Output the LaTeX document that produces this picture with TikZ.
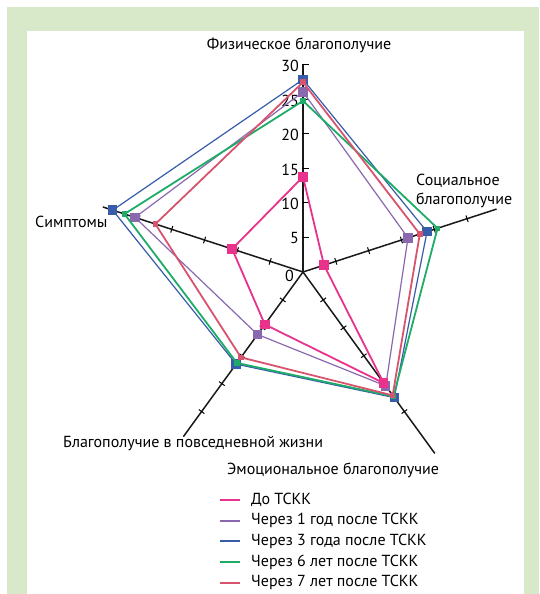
\documentclass[tikz,border=0pt]{standalone}
\usepackage{fontspec}
\setmainfont{PT Sans}
\usetikzlibrary{positioning}
\definecolor{frameGreen}{RGB}{216, 233, 201}
\definecolor{beforeColor}{RGB}{232, 50, 140}
\definecolor{oneYearColor}{RGB}{138, 104, 176}
\definecolor{threeYearColor}{RGB}{54, 92, 170}
\definecolor{sixYearColor}{RGB}{30, 172, 104}
\definecolor{sevenYearColor}{RGB}{216, 84, 110}

\begin{document}
\begin{tikzpicture}[x=1pt, y=1pt, font=\fontsize{16}{19}\selectfont,
    axis/.style={line width=1.5pt, black!90},
    marker/.style={rectangle, inner sep=0pt, minimum size=#1},
    legendline/.style={line width=1.8pt}]
        % Frame
        \fill[white] (0,0) rectangle (539,594);
        \useasboundingbox (0,0) rectangle (539,594);
        \fill[frameGreen] (7,0) rectangle (539,587);
        \fill[white] (27,0) rectangle (524,563);

        \coordinate (center) at (303,322);
        \begin{scope}[shift={(center)}, x=6.9pt, y=6.9pt]
            % Axes
            \foreach \ang/\len/\nm in {90/30/phys, 18/29.5/soc, -54/32.5/emo, -126/29.5/daily, 162/30.5/sympt}
                \draw[axis] (0,0) -- (\ang:\len) coordinate (\nm end);
            % Ticks
            \foreach \ang in {18, -54, -126, 162}
                \foreach \r in {5, 10, ..., 25}
                    \draw[line width=1pt, rotate=\ang] (\r,-0.5) -- (\r,0.5);
            \foreach \r in {5, 10, ..., 30} {
                \draw[line width=1pt] (0,\r) ++(-1pt,0) -- ++(7pt,0);
                \node[anchor=east, inner sep=0pt] (tick\r) at ([xshift=-4pt, yshift=-1pt]0,\r) {\r};
            }
            \node[anchor=east, inner sep=0pt] (tick0) at ([xshift=-9pt, yshift=-4pt]0,0) {0};

            % Series
            \foreach \sname/\col/\lw/\msz/\a/\b/\c/\d/\e in {
                    three/threeYearColor/1.2pt/9.5pt/27.9/18.9/22.5/16.5/29.0,
                    one/oneYearColor/1.2pt/9.5pt/26.1/16.0/20.4/11.2/25.6,
                    six/sixYearColor/1.8pt/5.5pt/24.8/20.5/22.3/16.3/27.2,
                    seven/sevenYearColor/1.8pt/5.5pt/27.5/17.8/22.1/15.3/22.5,
                    before/beforeColor/1.8pt/9.5pt/13.8/3.2/19.9/9.4/10.8} {
                \draw[\col, line width=\lw, line join=miter]
                    (90:\a) coordinate (\sname phys) -- (18:\b) coordinate (\sname soc)
                    -- (-54:\c) coordinate (\sname emo) -- (-126:\d) coordinate (\sname daily)
                    -- (162:\e) coordinate (\sname sympt) -- cycle;
                \foreach \ax in {phys, soc, emo, daily, sympt}
                    \node[marker=\msz, fill=\col] (\sname\ax mark) at (\sname\ax) {};
            }
        \end{scope}

        % Axis labels
        \node[inner sep=0pt] (physlabel) at (299,549) {Физическое благополучие};
        \node[anchor=west, inner sep=0pt, align=left, font=\fontsize{16}{19}\selectfont] (soclabel) at (416,403) {Социальное\\благополучие};
        \node[anchor=west, inner sep=0pt] (symptlabel) at (35,372) {Симптомы};
        \node[anchor=west, inner sep=0pt] (dailylabel) at (63,150) {Благополучие в повседневной жизни};
        \node[anchor=west, inner sep=0pt] (emolabel) at (227,124) {Эмоциональное благополучие};

        % Legend
        \foreach \col/\txt [count=\i] in {beforeColor/До ТСКК, oneYearColor/Через 1 год после ТСКК,
                threeYearColor/Через 3 года после ТСКК, sixYearColor/Через 6 лет после ТСКК,
                sevenYearColor/Через 7 лет после ТСКК} {
            \coordinate (leg\i) at (220,{114.7-20.7*\i});
            \draw[legendline, \col] (leg\i) -- ++(20,0);
            \node[anchor=west, inner sep=0pt] (legtext\i) at ([xshift=31pt]leg\i) {\txt};
        }
\end{tikzpicture}
\end{document}
